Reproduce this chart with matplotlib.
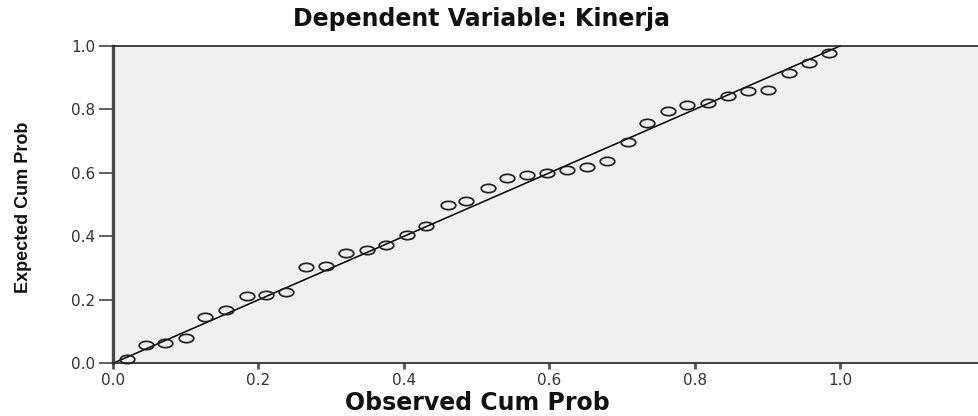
import matplotlib
matplotlib.use("Agg")
import matplotlib.pyplot as plt
from matplotlib.path import Path
from matplotlib.transforms import Affine2D

observed = [0.019, 0.046, 0.072, 0.100, 0.127, 0.155, 0.184, 0.211, 0.238,
            0.265, 0.293, 0.321, 0.349, 0.376, 0.404, 0.431, 0.461, 0.486,
            0.516, 0.542, 0.569, 0.597, 0.625, 0.652, 0.680, 0.708, 0.735,
            0.763, 0.790, 0.818, 0.846, 0.874, 0.901, 0.930, 0.958, 0.985]
expected = [0.013, 0.057, 0.064, 0.081, 0.147, 0.167, 0.211, 0.214, 0.225,
            0.305, 0.308, 0.349, 0.356, 0.373, 0.404, 0.433, 0.498, 0.510,
            0.552, 0.584, 0.594, 0.599, 0.610, 0.620, 0.639, 0.699, 0.757,
            0.794, 0.814, 0.820, 0.841, 0.857, 0.862, 0.914, 0.947, 0.978]
ref_line = [0.0, 1.0]
ticks = [0.0, 0.2, 0.4, 0.6, 0.8, 1.0]
tick_labels = ["0.0", "0.2", "0.4", "0.6", "0.8", "1.0"]
title = "Dependent Variable: Kinerja"
xlabel = "Observed Cum Prob"
ylabel = "Expected Cum Prob"

W, H = 979, 416
fig = plt.figure(figsize=(W / 100, H / 100), dpi=100)
fig.patch.set_facecolor("white")

x0, x1 = 113, 979
y0, y1 = 363.3, 46
ax = fig.add_axes([x0 / W, (H - y0) / H, (x1 - x0) / W, (y0 - y1) / H])
ax.set_facecolor("#f0f0f0")
ax.set_xlim(0, (x1 - x0) / 727.0)
ax.set_ylim(0, 1.0)

# reference line
ax.plot(ref_line, ref_line, color="black", lw=1.1, zorder=2, clip_on=False)

# elliptical open markers
circ = Path.unit_circle()
ell = Path(Affine2D().scale(1.75, 1.0).transform(circ.vertices), circ.codes)
ax.plot(observed, expected, linestyle="none", marker=ell, markersize=10.5,
        markerfacecolor="none", markeredgecolor="#222222", markeredgewidth=1.25,
        zorder=3, clip_on=False)

ax.spines["right"].set_visible(False)
ax.spines["left"].set_linewidth(2.4)
ax.spines["left"].set_color("#4a4a4a")
ax.spines["bottom"].set_linewidth(1.2)
ax.spines["bottom"].set_color("#222222")
ax.spines["top"].set_linewidth(1.2)
ax.spines["top"].set_color("#222222")

ax.set_xticks(ticks)
ax.set_xticklabels(tick_labels)
ax.set_yticks(ticks)
ax.set_yticklabels(tick_labels)
ax.tick_params(axis="x", direction="out", length=4, width=2.0, color="#555555",
               pad=3, labelsize=11, labelcolor="#333333")
ax.tick_params(axis="y", direction="out", length=10, width=1.1, color="#333333",
               pad=3, labelsize=11, labelcolor="#333333")

fig.text(482 / W, 1 - 19 / H, title, ha="center", va="center",
         fontsize=17, fontweight="bold", family="DejaVu Sans", color="#111111")
fig.text(477 / W, 1 - 403 / H, xlabel, ha="center", va="center",
         fontsize=17, fontweight="bold", family="DejaVu Sans", color="#111111")

fig.text(24 / W, 1 - 207 / H, ylabel, ha="center", va="center", rotation=90,
         fontsize=13, fontweight="bold", family="Liberation Sans", color="#111111")

fig.savefig("out.png", dpi=100)
